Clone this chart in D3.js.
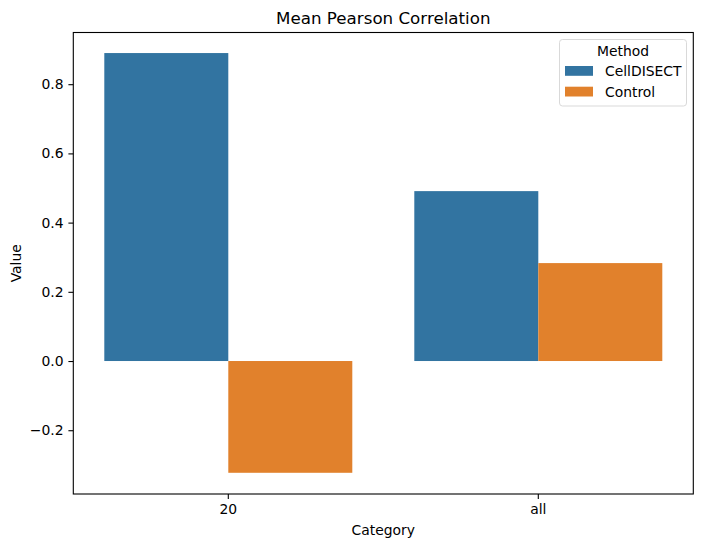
<!DOCTYPE html>
<html><head><meta charset="utf-8">
<script src="https://cdn.jsdelivr.net/npm/d3@7"></script>
<style>body{margin:0;background:#fff}svg{display:block;font-family:"DejaVu Sans",sans-serif}</style>
</head><body><svg id="c" width="702" height="547"></svg>
<script>
const categories = ["20", "all"];
const methods = ["CellDISECT", "Control"];
const cellDisectValues = [0.890, 0.491];
const controlValues = [-0.323, 0.283];
const yTicks = [-0.2, 0.0, 0.2, 0.4, 0.6, 0.8];
const colors = ["#3274a1", "#e1812c"];

const svg = d3.select("#c");
const L = 73.3, R = 693.3, T = 32.5, B = 494;
const x = d3.scaleBand().domain(categories).range([L, R]).paddingInner(0.2).paddingOuter(0.1);
const x1 = d3.scaleBand().domain(methods).range([0, x.bandwidth()]);
const y = d3.scaleLinear().domain([-0.3843, 0.9494]).range([B, T]);

const series = [cellDisectValues, controlValues];
categories.forEach((c, i) => {
  methods.forEach((m, j) => {
    const v = series[j][i];
    svg.append("rect")
      .attr("x", x(c) + x1(m)).attr("width", x1.bandwidth())
      .attr("y", y(Math.max(0, v))).attr("height", Math.abs(y(v) - y(0)))
      .attr("fill", colors[j]);
  });
});

const fmt = d => d < 0 ? "\u2212" + Math.abs(d).toFixed(1) : d.toFixed(1);
const ya = svg.append("g").attr("transform", `translate(${L},0)`)
  .call(d3.axisLeft(y).tickValues(yTicks).tickFormat(fmt).tickSize(4.9).tickPadding(4.9));
const xa = svg.append("g").attr("transform", `translate(0,${B})`)
  .call(d3.axisBottom(x).tickSize(4.9).tickPadding(4.9));
[ya, xa].forEach(a => {
  a.select(".domain").remove();
  a.selectAll("text").attr("font-size", 13.9).attr("font-family", "DejaVu Sans").attr("fill", "#000");
  a.selectAll("line").attr("stroke", "#000").attr("stroke-width", 1.1);
});
svg.append("rect").attr("x", L).attr("y", T).attr("width", R - L).attr("height", B - T)
  .attr("fill", "none").attr("stroke", "#000").attr("stroke-width", 1.1);

svg.append("text").attr("x", (L + R) / 2).attr("y", 24).attr("text-anchor", "middle")
  .attr("font-size", 16.7).text("Mean Pearson Correlation");
svg.append("text").attr("x", (L + R) / 2).attr("y", 535).attr("text-anchor", "middle")
  .attr("font-size", 13.9).text("Category");
svg.append("text").attr("transform", `translate(21,${(T + B) / 2}) rotate(-90)`).attr("text-anchor", "middle")
  .attr("font-size", 13.9).text("Value");

const lg = svg.append("g");
lg.append("rect").attr("x", 559.5).attr("y", 39.5).attr("width", 127).attr("height", 66.5).attr("rx", 3)
  .attr("fill", "#fff").attr("fill-opacity", 0.8).attr("stroke", "#d9d9d9");
lg.append("text").attr("x", 623).attr("y", 56).attr("text-anchor", "middle").attr("font-size", 13.9).text("Method");
methods.forEach((m, j) => {
  lg.append("rect").attr("x", 565).attr("y", 66 + j * 20.7).attr("width", 28).attr("height", 9.8).attr("fill", colors[j]);
  lg.append("text").attr("x", 605).attr("y", 76 + j * 20.7).attr("font-size", 13.9).text(m);
});
</script></body></html>
